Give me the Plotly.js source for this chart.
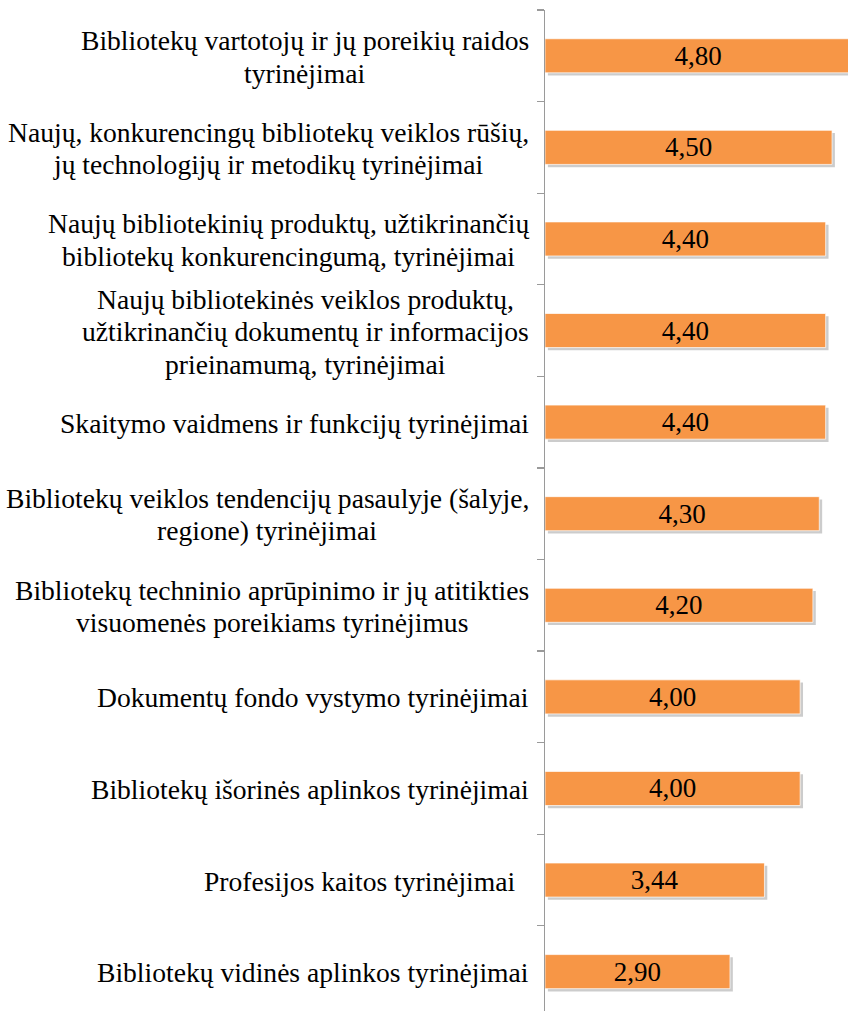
<!DOCTYPE html>
<html>
<head>
<meta charset="utf-8">
<script src="https://cdn.plot.ly/plotly-3.0.1.min.js"></script>
<style>html,body{margin:0;padding:0;background:#fff;}</style>
</head>
<body>
<div id="chart"></div>
<script>
const categories = [
  "Bibliotekų vartotojų ir jų poreikių raidos<br>tyrinėjimai",
  "Naujų, konkurencingų bibliotekų veiklos rūšių,<br>jų technologijų ir metodikų tyrinėjimai",
  "Naujų bibliotekinių produktų, užtikrinančių<br>bibliotekų konkurencingumą, tyrinėjimai",
  "Naujų bibliotekinės veiklos produktų,<br>užtikrinančių dokumentų ir informacijos<br>prieinamumą, tyrinėjimai",
  "Skaitymo vaidmens ir funkcijų tyrinėjimai",
  "Bibliotekų veiklos tendencijų pasaulyje (šalyje,<br>regione) tyrinėjimai",
  "Bibliotekų techninio aprūpinimo ir jų atitikties<br>visuomenės poreikiams tyrinėjimus",
  "Dokumentų fondo vystymo tyrinėjimai",
  "Bibliotekų išorinės aplinkos tyrinėjimai",
  "Profesijos kaitos tyrinėjimai\u00A0\u00A0",
  "Bibliotekų vidinės aplinkos tyrinėjimai"
];
const values = [4.80, 4.50, 4.40, 4.40, 4.40, 4.30, 4.20, 4.00, 4.00, 3.44, 2.90];

const serif = "Liberation Serif";
const labelSize = 27.6;
const lineGap = 32.5;
const barW = 0.372;

const shadow = {
  type: 'bar', orientation: 'h', x: values, y: categories,
  base: 0.045, width: barW, offset: -barW / 2 + 0.03,
  marker: { color: 'rgba(0,0,0,0.2)', line: { width: 0 } },
  hoverinfo: 'skip', showlegend: false
};
const main = {
  type: 'bar', orientation: 'h', x: values, y: categories,
  width: barW,
  marker: { color: '#F79646', line: { color: 'rgba(255,255,255,0.7)', width: 1 } },
  texttemplate: '%{x:.2f}', textposition: 'inside', insidetextanchor: 'middle',
  textfont: { family: serif, size: 27, color: '#000' },
  constraintext: 'none',
  showlegend: false
};

// measure line widths to centre multi-line labels in a right-aligned block
const ctx = document.createElement('canvas').getContext('2d');
ctx.font = labelSize + 'px "Liberation Serif"';
const annotations = [];
categories.forEach(c => {
  const lines = c.split('<br>');
  const blockW = Math.max(...lines.map(l => ctx.measureText(l).width));
  const n = lines.length;
  lines.forEach((l, i) => {
    annotations.push({
      xref: 'paper', yref: 'y', x: 0, y: c, text: l,
      xanchor: 'center', yanchor: 'middle', align: 'center',
      xshift: -16 - blockW / 2, yshift: ((n - 1) / 2 - i) * lineGap - 1,
      showarrow: false,
      font: { family: serif, size: labelSize, color: '#000' }
    });
  });
});

const layout = {
  width: 848, height: 1011,
  margin: { l: 545, r: 0, t: 10, b: 0, pad: 0 },
  paper_bgcolor: '#fff', plot_bgcolor: '#fff',
  font: { family: serif, color: '#000' },
  barmode: 'overlay',
  separators: ', ',
  showlegend: false,
  xaxis: { range: [0, 4.75], showgrid: false, zeroline: false, showticklabels: false, showline: false, ticks: '' },
  yaxis: {
    type: 'category', range: [10.43, -0.5],
    showgrid: false, zeroline: false, showticklabels: false,
    showline: true, linecolor: '#9a9a9a', linewidth: 1.3,
    ticks: 'outside', tickson: 'boundaries', ticklen: 7, tickcolor: '#9a9a9a', tickwidth: 1.3
  },
  annotations: annotations
};

Plotly.newPlot('chart', [shadow, main], layout, { displayModeBar: false, staticPlot: true });
</script>
</body>
</html>
